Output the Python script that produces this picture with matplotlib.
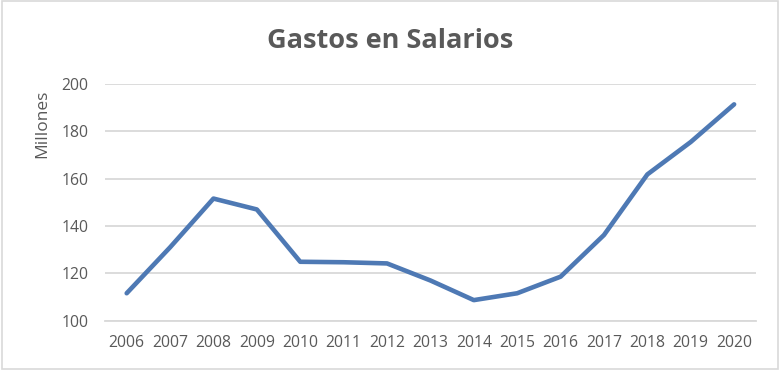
import matplotlib.pyplot as plt
from matplotlib.patches import Rectangle

years = ["2006", "2007", "2008", "2009", "2010", "2011", "2012", "2013",
         "2014", "2015", "2016", "2017", "2018", "2019", "2020"]
gastos = [111.6, 131.0, 151.6, 147.0, 124.9, 124.7, 124.2, 117.0,
          108.7, 111.6, 118.6, 136.2, 161.8, 175.5, 191.4]
yticks = [100, 120, 140, 160, 180, 200]

plt.rcParams['font.family'] = ['Open Sans', 'DejaVu Sans']

fig = plt.figure(figsize=(7.8, 3.7), dpi=100)
ax = fig.add_axes([0.1346, 0.1332, 0.969 - 0.1346, 0.773 - 0.1332])

x = list(range(len(years)))
ax.plot(x, gastos, color="#4e79b4", linewidth=3.3, solid_capstyle="round",
        solid_joinstyle="round", zorder=3)

ax.set_xlim(-0.5, len(years) - 0.5)
ax.set_ylim(100, 200)
ax.set_yticks(yticks)
ax.set_xticks(x)
ax.set_xticklabels(years)
ax.yaxis.grid(True, color="#d9d9d9", linewidth=1.3)
ax.set_axisbelow(True)
for s in ["top", "right", "left"]:
    ax.spines[s].set_visible(False)
ax.spines["bottom"].set_color("#d9d9d9")
ax.spines["bottom"].set_linewidth(1.3)
ax.tick_params(axis="both", length=0, labelsize=11.3, labelcolor="#595959")
ax.tick_params(axis="y", pad=12)
ax.tick_params(axis="x", pad=10)

fig.text(0.5, 1 - 41 / 370, "Gastos en Salarios", ha="center", va="center",
         fontsize=19.5, fontweight="bold", color="#595959")
fig.text(42 / 780, 1 - 124 / 370, "Millones", rotation=90, ha="center",
         va="center", fontsize=12.5, color="#595959")

fig.patches.append(Rectangle((0.002, 0.003), 0.995, 0.994, transform=fig.transFigure,
                             fill=False, edgecolor="#d9d9d9", linewidth=1.2))

fig.savefig("out.png", dpi=100)
